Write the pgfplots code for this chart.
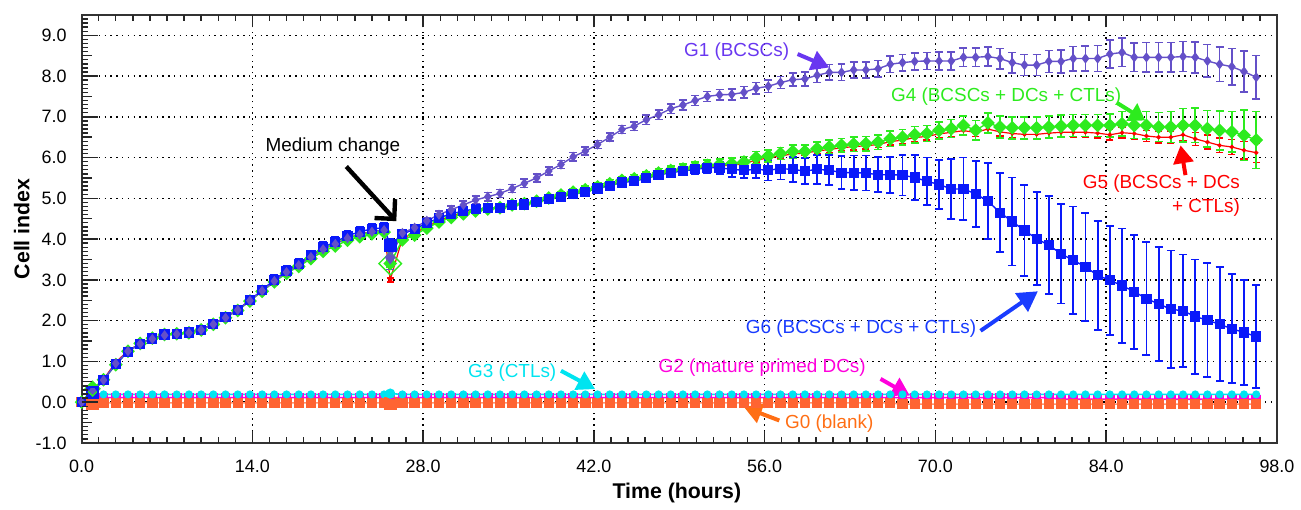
\documentclass[border=0pt]{standalone}
\usepackage{pgfplots}
\pgfplotsset{compat=1.18}
\usepackage{pgfplotstable}
\usepackage{fontspec}
\setmainfont{Liberation Sans}
\usetikzlibrary{arrows.meta}

\definecolor{cG0}{RGB}{255,100,50}
\definecolor{cG0t}{RGB}{255,110,20}
\definecolor{cG1}{RGB}{100,80,200}
\definecolor{cG1t}{RGB}{105,55,240}
\definecolor{cG2}{RGB}{255,0,220}
\definecolor{cG3}{RGB}{0,228,240}
\definecolor{cG4}{RGB}{45,235,30}
\definecolor{cG5}{RGB}{255,0,0}
\definecolor{cG6}{RGB}{10,25,250}
\definecolor{cG6t}{RGB}{25,60,255}

% t g0 g2 g3 | g1 e1 | g4 e4 | g5 e5 | g6 e6
\pgfplotstableread{
t g0 g2 g3 g1 e1 g4 e4 g5 e5 g6 e6
0.0 0.00 0.00 0.00 0.00 0.00 0.00 0.00 0.00 0.00 0.00 0.00
0.9 -0.04 0.09 0.17 0.28 0.04 0.33 0.04 0.30 0.03 0.24 0.04
1.8 -0.02 0.11 0.19 0.54 0.05 0.55 0.04 0.56 0.04 0.55 0.05
2.8 -0.02 0.11 0.19 0.95 0.06 0.92 0.04 0.98 0.04 0.93 0.06
3.8 -0.02 0.11 0.19 1.25 0.06 1.25 0.04 1.26 0.04 1.24 0.06
4.8 -0.02 0.11 0.19 1.43 0.05 1.44 0.04 1.44 0.04 1.43 0.05
5.8 -0.02 0.11 0.19 1.55 0.05 1.57 0.04 1.57 0.04 1.56 0.05
6.8 -0.02 0.11 0.19 1.64 0.05 1.66 0.04 1.66 0.04 1.66 0.05
7.8 -0.02 0.11 0.19 1.67 0.05 1.68 0.04 1.68 0.04 1.68 0.05
8.8 -0.02 0.11 0.19 1.70 0.05 1.70 0.04 1.71 0.04 1.71 0.05
9.8 -0.02 0.11 0.19 1.77 0.05 1.77 0.04 1.78 0.04 1.78 0.05
10.8 -0.02 0.11 0.19 1.91 0.05 1.91 0.04 1.92 0.04 1.92 0.06
11.8 -0.02 0.11 0.19 2.07 0.06 2.07 0.04 2.09 0.04 2.08 0.07
12.8 -0.02 0.11 0.19 2.26 0.06 2.25 0.05 2.27 0.04 2.27 0.08
13.8 -0.02 0.11 0.19 2.49 0.06 2.48 0.05 2.50 0.04 2.50 0.09
14.8 -0.02 0.11 0.19 2.73 0.07 2.72 0.05 2.74 0.04 2.75 0.10
15.8 -0.02 0.11 0.19 2.97 0.07 2.95 0.05 2.98 0.04 3.00 0.12
16.8 -0.02 0.11 0.19 3.19 0.07 3.16 0.05 3.20 0.04 3.22 0.12
17.8 -0.02 0.11 0.19 3.36 0.07 3.33 0.05 3.37 0.04 3.39 0.12
18.8 -0.02 0.11 0.19 3.56 0.07 3.52 0.05 3.57 0.04 3.60 0.12
19.8 -0.02 0.11 0.19 3.75 0.07 3.70 0.05 3.76 0.04 3.80 0.12
20.8 -0.02 0.11 0.19 3.88 0.07 3.83 0.05 3.89 0.04 3.93 0.12
21.8 -0.02 0.11 0.19 4.02 0.07 3.97 0.05 4.03 0.04 4.08 0.12
22.8 -0.02 0.11 0.19 4.11 0.07 4.06 0.05 4.12 0.04 4.18 0.12
23.8 -0.02 0.11 0.19 4.18 0.07 4.13 0.05 4.19 0.04 4.25 0.12
24.8 -0.02 0.11 0.19 4.22 0.07 4.17 0.05 4.22 0.04 4.28 0.12
25.3 -0.04 0.11 0.21 3.55 0.30 3.40 0.08 3.00 0.05 3.85 0.15
26.3 -0.02 0.11 0.19 4.15 0.08 3.98 0.06 4.02 0.04 4.12 0.10
27.3 -0.02 0.11 0.19 4.28 0.08 4.10 0.06 4.15 0.04 4.25 0.10
28.3 -0.02 0.11 0.19 4.45 0.08 4.27 0.06 4.30 0.04 4.39 0.10
29.3 -0.02 0.11 0.19 4.60 0.09 4.42 0.06 4.45 0.04 4.52 0.10
30.3 -0.02 0.11 0.19 4.72 0.09 4.53 0.06 4.56 0.04 4.62 0.08
31.3 -0.02 0.11 0.19 4.84 0.10 4.62 0.06 4.64 0.04 4.69 0.08
32.3 -0.02 0.11 0.19 4.96 0.10 4.69 0.06 4.70 0.04 4.74 0.07
33.3 -0.02 0.11 0.19 5.04 0.10 4.74 0.06 4.74 0.04 4.76 0.07
34.3 -0.02 0.11 0.19 5.12 0.10 4.77 0.06 4.77 0.04 4.77 0.07
35.3 -0.02 0.11 0.19 5.24 0.10 4.84 0.06 4.83 0.04 4.84 0.07
36.3 -0.02 0.11 0.19 5.37 0.10 4.87 0.06 4.86 0.04 4.85 0.07
37.3 -0.02 0.11 0.19 5.50 0.10 4.93 0.06 4.92 0.04 4.90 0.07
38.3 -0.02 0.11 0.19 5.67 0.10 5.01 0.07 5.00 0.04 4.98 0.07
39.3 -0.02 0.11 0.19 5.83 0.10 5.08 0.07 5.06 0.04 5.04 0.07
40.3 -0.02 0.11 0.19 6.02 0.10 5.15 0.08 5.13 0.04 5.10 0.07
41.3 -0.02 0.11 0.19 6.16 0.10 5.21 0.09 5.19 0.04 5.16 0.07
42.3 -0.02 0.11 0.19 6.32 0.10 5.28 0.10 5.26 0.04 5.24 0.07
43.3 -0.02 0.11 0.19 6.50 0.10 5.36 0.10 5.33 0.04 5.31 0.07
44.3 -0.02 0.11 0.19 6.69 0.10 5.44 0.10 5.41 0.04 5.39 0.07
45.3 -0.02 0.11 0.19 6.77 0.11 5.48 0.10 5.45 0.04 5.42 0.07
46.3 -0.02 0.11 0.19 6.93 0.12 5.55 0.10 5.52 0.04 5.49 0.08
47.3 -0.02 0.11 0.19 7.05 0.12 5.62 0.11 5.59 0.04 5.57 0.08
48.3 -0.02 0.11 0.19 7.20 0.12 5.68 0.11 5.65 0.04 5.63 0.09
49.3 -0.02 0.11 0.19 7.29 0.12 5.72 0.12 5.69 0.04 5.67 0.10
50.3 -0.02 0.11 0.19 7.40 0.12 5.77 0.12 5.74 0.04 5.71 0.12
51.3 -0.02 0.11 0.19 7.50 0.12 5.81 0.13 5.78 0.05 5.75 0.13
52.3 -0.02 0.11 0.19 7.54 0.13 5.83 0.13 5.80 0.05 5.75 0.15
53.3 -0.02 0.11 0.19 7.55 0.13 5.85 0.14 5.81 0.05 5.71 0.18
54.3 -0.02 0.11 0.19 7.60 0.14 5.89 0.14 5.85 0.05 5.69 0.20
55.3 -0.02 0.11 0.19 7.70 0.14 6.00 0.15 5.94 0.05 5.71 0.22
56.3 -0.02 0.11 0.19 7.75 0.15 6.04 0.15 5.99 0.05 5.69 0.25
57.3 -0.02 0.11 0.19 7.84 0.15 6.10 0.15 6.04 0.06 5.73 0.27
58.3 -0.02 0.11 0.19 7.91 0.16 6.15 0.16 6.09 0.06 5.71 0.30
59.3 -0.02 0.11 0.19 7.93 0.17 6.15 0.16 6.11 0.06 5.67 0.32
60.3 -0.02 0.11 0.19 8.02 0.18 6.22 0.16 6.16 0.07 5.71 0.35
61.3 -0.02 0.11 0.19 8.09 0.19 6.26 0.17 6.20 0.07 5.69 0.37
62.3 -0.02 0.11 0.19 8.09 0.20 6.30 0.17 6.24 0.08 5.63 0.40
63.3 -0.02 0.11 0.19 8.15 0.20 6.33 0.18 6.27 0.08 5.63 0.42
64.3 -0.02 0.11 0.19 8.15 0.20 6.34 0.18 6.29 0.08 5.62 0.43
65.3 -0.02 0.11 0.19 8.18 0.20 6.38 0.18 6.32 0.08 5.58 0.43
66.3 -0.02 0.11 0.19 8.29 0.20 6.46 0.19 6.39 0.08 5.58 0.44
67.3 -0.05 0.11 0.19 8.33 0.20 6.50 0.19 6.43 0.08 5.57 0.50
68.3 -0.05 0.11 0.19 8.36 0.21 6.56 0.20 6.49 0.09 5.51 0.55
69.3 -0.05 0.11 0.19 8.37 0.21 6.59 0.20 6.52 0.09 5.42 0.58
70.3 -0.05 0.11 0.19 8.37 0.22 6.67 0.21 6.58 0.10 5.34 0.61
71.3 -0.05 0.11 0.19 8.37 0.22 6.71 0.22 6.62 0.10 5.23 0.73
72.3 -0.05 0.11 0.19 8.46 0.23 6.79 0.23 6.66 0.10 5.23 0.77
73.3 -0.05 0.11 0.19 8.46 0.23 6.67 0.24 6.62 0.10 5.11 0.81
74.3 -0.05 0.11 0.19 8.48 0.24 6.85 0.25 6.70 0.10 4.93 0.93
75.3 -0.05 0.11 0.19 8.43 0.25 6.75 0.27 6.63 0.10 4.65 0.97
76.3 -0.05 0.11 0.19 8.33 0.25 6.73 0.27 6.59 0.11 4.43 1.08
77.3 -0.05 0.11 0.19 8.27 0.26 6.73 0.27 6.57 0.11 4.21 1.12
78.3 -0.05 0.11 0.19 8.27 0.26 6.73 0.27 6.57 0.11 4.01 1.14
79.3 -0.05 0.11 0.19 8.36 0.27 6.75 0.27 6.60 0.12 3.85 1.20
80.3 -0.05 0.07 0.19 8.36 0.28 6.77 0.27 6.62 0.12 3.64 1.22
81.3 -0.05 0.07 0.19 8.43 0.30 6.79 0.27 6.62 0.12 3.48 1.32
82.3 -0.05 0.07 0.19 8.43 0.31 6.79 0.27 6.62 0.12 3.32 1.32
83.3 -0.05 0.07 0.19 8.43 0.32 6.79 0.27 6.60 0.12 3.11 1.34
84.3 -0.05 0.07 0.19 8.54 0.34 6.79 0.28 6.56 0.13 2.99 1.34
85.3 -0.05 0.07 0.19 8.58 0.35 6.83 0.30 6.61 0.13 2.86 1.40
86.3 -0.05 0.07 0.19 8.46 0.35 6.79 0.32 6.59 0.13 2.71 1.40
87.3 -0.05 0.07 0.19 8.46 0.36 6.79 0.34 6.53 0.14 2.54 1.38
88.3 -0.05 0.07 0.19 8.46 0.36 6.75 0.36 6.50 0.14 2.41 1.40
89.3 -0.05 0.07 0.19 8.46 0.36 6.75 0.38 6.50 0.15 2.28 1.44
90.3 -0.05 0.07 0.19 8.48 0.37 6.79 0.41 6.56 0.15 2.24 1.38
91.3 -0.05 0.07 0.19 8.46 0.38 6.79 0.42 6.46 0.16 2.10 1.40
92.3 -0.05 0.07 0.19 8.37 0.40 6.71 0.45 6.38 0.17 2.01 1.40
93.3 -0.05 0.07 0.19 8.29 0.42 6.67 0.48 6.30 0.18 1.91 1.40
94.3 -0.05 0.07 0.19 8.23 0.45 6.63 0.50 6.26 0.19 1.80 1.34
95.3 -0.05 0.07 0.19 8.11 0.50 6.55 0.62 6.18 0.21 1.71 1.28
96.3 -0.05 0.07 0.19 7.97 0.53 6.43 0.70 6.12 0.24 1.61 1.26
}\data

\begin{document}
\begin{tikzpicture}
\begin{axis}[
    scale only axis,
    width=600.5pt, height=215pt,
    xmin=0, xmax=98, ymin=-1, ymax=9.5,
    xtick={0,14,...,98}, ytick={-1,0,...,9},
    xtick pos=both, ytick pos=left,
    tick align=inside,
    major tick length=6pt,
    every tick/.style={solid, draw=black!85, line width=0.8pt},
    axis line style={solid, black!80, line width=1.1pt},
    xmajorgrids, ymajorgrids,
    major grid style={black, line width=0.7pt, dash pattern=on 0.7pt off 2.2pt},
    tick label style={font=\fontsize{9}{10}\selectfont},
    /pgf/number format/assume math mode=true,
    xticklabel style={/pgf/number format/.cd, fixed, fixed zerofill, precision=1, /tikz/.cd, yshift=-5pt},
    yticklabel style={/pgf/number format/.cd, fixed, fixed zerofill, precision=1, /tikz/.cd, xshift=-4pt},
    xlabel={Time (hours)}, ylabel={Cell index},
    label style={font=\fontsize{10.7}{12}\selectfont\bfseries},
    xlabel style={at={(axis description cs:0.498,-0.116)}, anchor=center},
    ylabel style={at={(axis description cs:-0.05,0.5)}, anchor=center},
]

% flat controls
\addplot[cG2, line width=0.8pt, mark=square*, mark size=2pt, mark options={fill=cG2}] table[x=t, y=g2] {\data};
\addplot[cG0!70, line width=0.8pt, mark=square*, mark size=2.2pt, mark options={cG0, fill=cG0}] table[x=t, y=g0] {\data};
\addplot[cG3, line width=0.8pt, mark=*, mark size=1.6pt, mark options={fill=cG3}] table[x=t, y=g3] {\data};

% growing groups, each with its error bars
\addplot[cG5, line width=0.6pt, mark=*, mark size=0.8pt, mark options={fill=cG5},
    error bars/.cd, y dir=both, y explicit,
    error bar style={draw=cG5, line width=0.7pt},
    error mark options={rotate=90, mark size=1.8pt, draw=cG5, line width=0.7pt}]
    table[x=t, y=g5, y error=e5] {\data};
\addplot[cG4, line width=0.7pt, mark=square*, mark size=2.1pt, mark options={rotate=45, fill=cG4},
    error bars/.cd, y dir=both, y explicit,
    error bar style={draw=cG4, line width=0.8pt},
    error mark options={rotate=90, mark size=2pt, draw=cG4, line width=0.8pt}]
    table[x=t, y=g4, y error=e4] {\data};
\addplot[cG6, line width=0.7pt, mark=square*, mark size=2.2pt, mark options={fill=cG6},
    error bars/.cd, y dir=both, y explicit,
    error bar style={draw=cG6, line width=0.9pt},
    error mark options={rotate=90, mark size=2pt, draw=cG6, line width=0.9pt}]
    table[x=t, y=g6, y error=e6] {\data};
\addplot[cG1, line width=0.7pt, mark=diamond*, mark size=2pt, mark options={fill=cG1},
    error bars/.cd, y dir=both, y explicit,
    error bar style={draw=cG1, line width=0.8pt},
    error mark options={rotate=90, mark size=2pt, draw=cG1, line width=0.8pt}]
    table[x=t, y=g1, y error=e1] {\data};

% open markers (addition at ~1 h, medium change at 25.3 h)
\addplot[only marks, cG0, mark=square, mark size=3pt, mark options={fill=white, line width=0.7pt}] coordinates {(0.9,-0.04) (25.3,-0.04)};
\addplot[only marks, cG3, mark=o, mark size=2.2pt, mark options={fill=white, line width=0.7pt}] coordinates {(25.3,0.21)};
\addplot[only marks, cG4, mark=square, mark size=4pt, mark options={rotate=45, fill=white, line width=0.7pt}] coordinates {(25.3,3.40)};
\addplot[only marks, cG4, mark=square, mark size=2.6pt, mark options={rotate=45, fill=white, line width=0.7pt}] coordinates {(0.9,0.33)};
\addplot[only marks, cG1, mark=diamond, mark size=3pt, mark options={fill=white, line width=0.7pt}] coordinates {(25.3,3.55)};
\addplot[only marks, cG6, mark=square, mark size=2.8pt, mark options={fill=white, line width=0.8pt}] coordinates {(25.3,3.85) (0.9,0.24)};

% annotations
\begin{scope}[every node/.style={font=\fontsize{9.5}{11.75}\selectfont, inner sep=0pt}]
\node[text=black] at (axis cs:20.6,6.27) {Medium change};
\draw[black, line width=2.2pt, -{Straight Barb[length=7pt,width=14pt]}] (axis cs:21.7,5.78) -- (axis cs:25.8,4.44);

\node[text=cG1t] at (axis cs:53.7,8.61) {G1 (BCSCs)};
\draw[cG1t, line width=2pt, -{Triangle[length=9pt,width=10pt]}] (axis cs:58.7,8.54) -- (axis cs:61.3,8.21);

\node[text=cG4] at (axis cs:75.8,7.49) {G4 (BCSCs + DCs + CTLs)};
\draw[cG4, line width=2pt, -{Triangle[length=8pt,width=10pt]}] (axis cs:84.9,7.34) -- (axis cs:87.2,6.91);

\node[text=cG5, anchor=east, align=right] at (axis cs:95.0,5.07) {G5 (BCSCs + DCs\\+ CTLs)};
\draw[cG5, line width=2pt, -{Triangle[length=9pt,width=10pt]}] (axis cs:90.5,5.57) -- (axis cs:90.1,6.30);

\node[text=cG6t] at (axis cs:63.9,1.80) {G6 (BCSCs + DCs + CTLs)};
\draw[cG6t, line width=2pt, -{Triangle[length=10pt,width=11pt]}] (axis cs:73.7,1.75) -- (axis cs:78.4,2.72);

\node[text=cG3] at (axis cs:35.3,0.73) {G3 (CTLs)};
\draw[cG3, line width=2pt, -{Triangle[length=9pt,width=10pt]}] (axis cs:39.3,0.77) -- (axis cs:42.1,0.32);

\node[text=cG2] at (axis cs:55.8,0.84) {G2 (mature primed DCs)};
\draw[cG2, line width=2pt, -{Triangle[length=9pt,width=10pt]}] (axis cs:65.5,0.57) -- (axis cs:67.9,0.16);

\node[text=cG0t] at (axis cs:61.3,-0.52) {G0 (blank)};
\draw[cG0t, line width=2pt, -{Triangle[length=9pt,width=10pt]}] (axis cs:57.2,-0.45) -- (axis cs:54.3,-0.12);
\end{scope}
\end{axis}

% tick marks along the frame: every 1.4 h on bottom and top, every 0.1 on the left
% (1.4 h = 8.578571pt, 0.1 = 2.047619pt on this 600.5pt x 215pt axis)
\begin{scope}[shift={(current axis.south west)}, black!85, line width=0.7pt]
\foreach \i in {1,...,69} {
  \pgfmathsetmacro{\xx}{\i*8.578571}
  \pgfmathsetmacro{\len}{ifthenelse(mod(\i,10)==0,6,3.2)}
  \pgfmathsetmacro{\ytop}{215-\len}
  \draw (\xx pt,0pt) -- (\xx pt,\len pt);
  \draw (\xx pt,215pt) -- (\xx pt,\ytop pt);
}
\foreach \j in {1,...,104} {
  \pgfmathsetmacro{\yy}{\j*2.047619}
  \pgfmathsetmacro{\len}{ifthenelse(mod(\j,10)==0,8,ifthenelse(mod(\j,5)==0,5,3.2))}
  \draw (0pt,\yy pt) -- (\len pt,\yy pt);
}
\end{scope}

\path ([shift={(-41pt,-31.5pt)}]current axis.south west) rectangle ([shift={(9pt,7.5pt)}]current axis.north east);
\end{tikzpicture}
\end{document}
